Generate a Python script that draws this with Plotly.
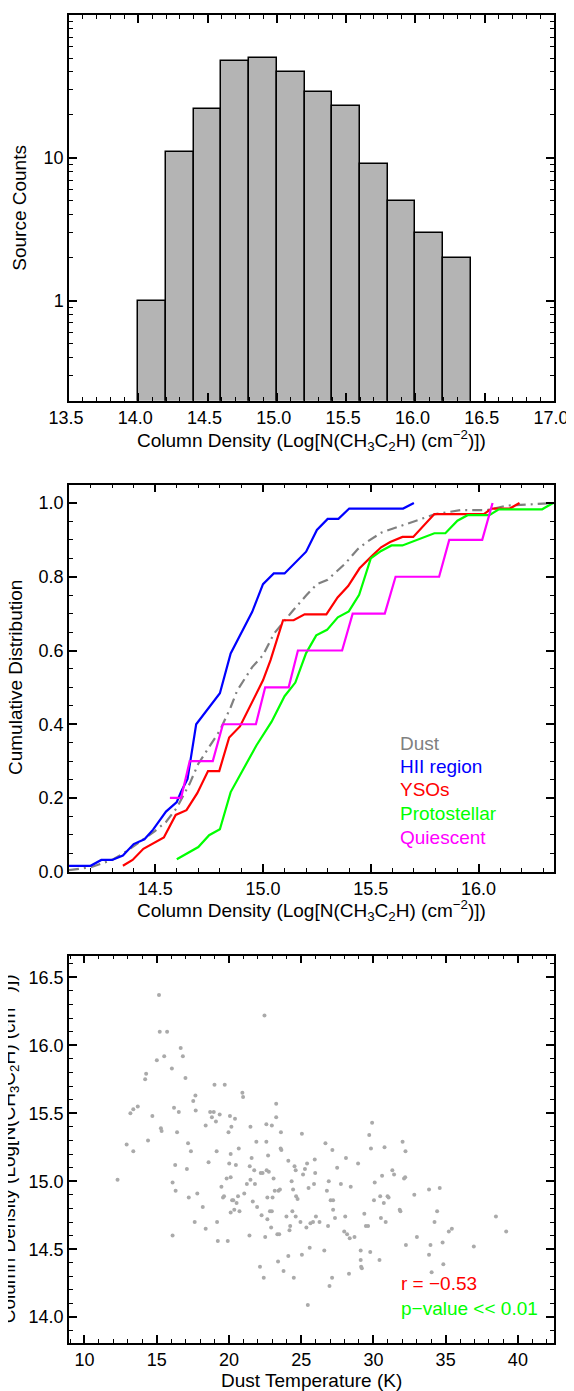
import plotly.graph_objects as go

# ---------------- Panel 1: histogram ----------------
bin_left = [14.0, 14.2, 14.4, 14.6, 14.8, 15.0, 15.2, 15.4, 15.6, 15.8, 16.0, 16.2]
counts = [1, 11, 22, 48, 50, 40, 29, 23, 9, 5, 3, 2]
bin_width = 0.2

# ---------------- Panel 2: cumulative distributions ----------------
dust_x = [14.10, 14.20, 14.30, 14.35, 14.45, 14.50, 14.55, 14.60, 14.66, 14.70, 14.75, 14.80, 14.85,
          14.88, 14.95, 15.00, 15.05, 15.10, 15.14, 15.20, 15.25, 15.30, 15.38, 15.44, 15.48, 15.55,
          15.65, 15.75, 15.80, 15.92, 16.04, 16.13, 16.26, 16.35]
dust_y = [0.004, 0.012, 0.032, 0.049, 0.090, 0.111, 0.135, 0.173, 0.239, 0.293, 0.338, 0.383, 0.446,
          0.491, 0.555, 0.587, 0.645, 0.681, 0.709, 0.749, 0.780, 0.792, 0.835, 0.875, 0.894, 0.920,
          0.939, 0.960, 0.970, 0.981, 0.981, 0.993, 0.997, 1.0]

hii_x = [14.05, 14.20, 14.25, 14.30, 14.35, 14.40, 14.45, 14.49, 14.55, 14.60, 14.62, 14.65, 14.69,
         14.80, 14.85, 14.95, 15.00, 15.05, 15.10, 15.20, 15.25, 15.30, 15.35, 15.40, 15.65, 15.70]
hii_y = [0.016, 0.016, 0.032, 0.032, 0.044, 0.075, 0.088, 0.114, 0.163, 0.189, 0.217, 0.252, 0.40,
         0.484, 0.592, 0.705, 0.780, 0.809, 0.809, 0.868, 0.927, 0.957, 0.957, 0.985, 0.985, 1.0]

yso_x = [14.35, 14.395, 14.445, 14.54, 14.595, 14.645, 14.695, 14.745, 14.797, 14.843, 14.893, 15.0,
         15.035, 15.093, 15.142, 15.193, 15.294, 15.346, 15.395, 15.448, 15.506, 15.548, 15.59, 15.647,
         15.697, 15.744, 15.795, 16.025, 16.06, 16.145, 16.19]
yso_y = [0.016, 0.032, 0.062, 0.093, 0.154, 0.167, 0.213, 0.273, 0.273, 0.364, 0.394, 0.519,
         0.574, 0.682, 0.682, 0.698, 0.698, 0.744, 0.775, 0.823, 0.857, 0.880, 0.894, 0.908,
         0.908, 0.939, 0.970, 0.970, 0.985, 0.985, 1.0]

proto_x = [14.60, 14.70, 14.75, 14.80, 14.85, 14.97, 15.04, 15.10, 15.15, 15.20, 15.247, 15.297,
           15.347, 15.398, 15.446, 15.50, 15.548, 15.596, 15.647, 15.744, 15.795, 15.846, 15.902,
           15.949, 16.05, 16.094, 16.295, 16.346]
proto_y = [0.034, 0.067, 0.099, 0.115, 0.216, 0.343, 0.407, 0.476, 0.513, 0.593, 0.641, 0.656,
           0.690, 0.706, 0.751, 0.850, 0.870, 0.885, 0.885, 0.906, 0.918, 0.918, 0.952,
           0.967, 0.967, 0.983, 0.983, 1.0]

quies_x = [14.568, 14.620, 14.660, 14.767, 14.814, 14.967, 15.010, 15.119, 15.162, 15.367, 15.416,
           15.565, 15.615, 15.817, 15.864, 16.017, 16.065]
quies_y = [0.2, 0.2, 0.3, 0.3, 0.4, 0.4, 0.5, 0.5, 0.6, 0.6, 0.7, 0.7, 0.8, 0.8, 0.9, 0.9, 1.0]

legend_labels = ["Dust", "HII region", "YSOs", "Protostellar", "Quiescent"]
legend_colors = ["#808080", "#0000ff", "#ff0000", "#00ff00", "#ff00ff"]
legend_y = [0.349, 0.286, 0.222, 0.159, 0.094]

# ---------------- Panel 3: scatter ----------------
tdust = [12.29, 12.92, 13.18, 13.38, 13.38, 13.69, 14.20, 14.27, 14.40, 14.70, 15.01, 15.16, 15.21, 15.29,
         15.34, 15.52, 15.72, 16.05, 16.10, 16.10, 16.20, 16.28, 16.31, 16.41, 16.53, 16.66, 16.81, 16.99,
         17.09, 17.17, 17.22, 17.37, 17.53, 17.63, 17.68, 17.70, 17.81, 18.19, 18.39, 18.39, 18.59, 18.70,
         18.82, 18.95, 19.00, 19.10, 19.15, 19.18, 19.23, 19.36, 19.48, 19.59, 19.66, 19.71, 19.84, 19.92,
         19.97, 20.02, 20.07, 20.12, 20.12, 20.12, 20.17, 20.22, 20.30, 20.37, 20.42, 20.48, 20.53, 20.63,
         20.68, 20.73, 20.93, 20.98, 21.06, 21.24, 21.42, 21.44, 21.49, 21.49, 21.57, 21.65, 21.75, 21.80,
         21.90, 21.95, 22.15, 22.20, 22.26, 22.33, 22.41, 22.46, 22.51, 22.59, 22.59, 22.61, 22.66, 22.66,
         22.71, 22.76, 22.84, 22.92, 22.97, 22.97, 23.02, 23.09, 23.17, 23.27, 23.27, 23.35, 23.40, 23.43,
         23.48, 23.53, 23.58, 23.60, 23.63, 23.78, 23.98, 24.11, 24.11, 24.19, 24.24, 24.34, 24.39, 24.44,
         24.49, 24.54, 24.62, 24.62, 24.65, 24.75, 24.95, 25.05, 25.05, 25.13, 25.26, 25.36, 25.41, 25.46,
         25.51, 25.59, 25.64, 25.82, 25.89, 25.94, 25.97, 26.02, 26.27, 26.60, 26.68, 26.78, 26.86, 26.91,
         26.96, 27.04, 27.14, 27.16, 27.21, 27.21, 27.34, 27.49, 27.75, 27.98, 28.05, 28.10, 28.18, 28.31,
         28.36, 28.43, 28.69, 28.94, 29.12, 29.12, 29.15, 29.20, 29.37, 29.48, 29.63, 29.71, 29.78, 29.83,
         29.91, 30.04, 30.09, 30.42, 30.47, 30.52, 30.60, 30.77, 30.72, 30.85, 30.98, 31.05, 31.31, 31.43,
         31.82, 31.87, 32.02, 32.12, 32.20, 32.22, 32.25, 32.83, 33.01, 33.85, 33.85, 33.95, 34.03, 34.23,
         34.41, 34.59, 34.79, 34.84, 35.22, 35.43, 36.95, 38.48, 39.19]
logn = [15.01, 15.27, 15.50, 15.53, 15.22, 15.55, 15.75, 15.79, 15.30, 15.48, 15.89, 16.37, 16.10, 15.39,
        15.37, 15.92, 16.10, 15.83, 14.99, 14.60, 15.54, 15.12, 14.93, 15.36, 15.51, 15.98, 15.92, 15.76,
        15.09, 15.28, 14.88, 15.22, 15.59, 14.70, 15.63, 15.52, 14.91, 14.81, 15.41, 14.65, 15.14, 15.51,
        15.47, 15.51, 15.71, 15.44, 15.22, 14.70, 14.56, 15.49, 14.96, 14.88, 14.89, 15.71, 15.02, 14.56,
        15.36, 15.13, 15.48, 15.03, 14.77, 15.20, 15.40, 14.86, 14.86, 14.79, 15.46, 15.12, 14.84, 14.89,
        15.24, 14.78, 15.65, 15.62, 14.91, 14.98, 14.60, 15.11, 15.40, 15.01, 15.17, 14.85, 15.08, 14.98,
        15.29, 14.81, 14.37, 15.06, 14.75, 15.06, 14.29, 16.22, 14.59, 15.42, 15.29, 15.08, 14.72, 14.88,
        15.19, 15.07, 14.78, 14.66, 14.78, 15.41, 14.88, 15.02, 14.93, 15.47, 15.57, 14.61, 14.41, 14.93,
        14.61, 14.94, 15.24, 15.36, 15.23, 14.34, 14.74, 15.15, 14.45, 14.64, 14.67, 15.00, 14.78, 14.94,
        14.29, 15.11, 15.08, 14.74, 14.89, 14.87, 14.70, 15.35, 14.46, 15.05, 15.09, 14.66, 15.13, 14.09,
        14.95, 14.51, 14.69, 14.70, 14.98, 15.16, 15.06, 14.74, 14.70, 14.49, 15.28, 14.93, 14.67, 15.00,
        14.23, 14.86, 14.29, 15.23, 14.79, 14.86, 14.73, 15.10, 14.98, 14.63, 14.74, 15.17, 14.61, 14.32,
        14.58, 14.96, 14.59, 15.13, 14.49, 14.42, 14.37, 14.36, 14.76, 14.67, 14.67, 15.34, 14.48, 15.24,
        15.43, 14.86, 14.99, 14.42, 14.89, 14.73, 15.04, 15.25, 14.84, 14.70, 14.89, 14.88, 15.08, 15.05,
        14.79, 14.78, 15.29, 15.02, 15.03, 15.22, 14.53, 14.90, 14.59, 14.94, 14.46, 14.53, 14.33, 14.70,
        14.78, 14.95, 14.55, 14.39, 14.63, 14.65, 14.52, 14.74, 14.63]

r_text = "r = \u22120.53"
p_text = "p\u2212value << 0.01"
stat_pos = (31.74, 14.245, 14.066)

col_title = "Column Density (Log[N(CH<sub>3</sub>C<sub>2</sub>H) (cm<sup>\u22122</sup>)])"

# ---------------- layout geometry (page pixels; page body has an 8px margin) ----------------
W, H = 574, 1391
OFF = 8
P_LEFT, P_RIGHT, P_TOP, P_BOT = 69, 554, 13, 1343   # plot extents on the page
ML = P_LEFT - OFF
MR = W - (P_RIGHT - OFF)
MT = P_TOP - OFF
MB = H - (P_BOT - OFF)
PH = H - MT - MB
PW = W - ML - MR


def ypaper(py):
    return ((P_BOT - OFF) - (py - OFF)) / PH


def xpaper(px):
    return (px - P_LEFT) / PW


def ydom(top_px, bot_px):
    return [ypaper(bot_px), ypaper(top_px)]


FONT = "Liberation Sans, Arial, Helvetica, sans-serif"
FS = 19
TFS = 18

fig = go.Figure()

fig.add_trace(go.Bar(
    x=[b + bin_width / 2 for b in bin_left], y=counts, width=bin_width,
    marker=dict(color="#b4b4b4", line=dict(color="black", width=1.5)),
    xaxis="x", yaxis="y", showlegend=False))

series = [(dust_x, dust_y, "#808080", "10px,5px,2px,5px"),
          (hii_x, hii_y, "#0000ff", "solid"),
          (yso_x, yso_y, "#ff0000", "solid"),
          (proto_x, proto_y, "#00ff00", "solid"),
          (quies_x, quies_y, "#ff00ff", "solid")]
for (sx, sy, c, d), name in zip(series, legend_labels):
    fig.add_trace(go.Scatter(x=sx, y=sy, mode="lines", name=name,
                             line=dict(color=c, width=2.2, dash=d),
                             xaxis="x2", yaxis="y2", showlegend=False))

fig.add_trace(go.Scatter(x=tdust, y=logn, mode="markers",
                         marker=dict(color="#aaaaaa", size=4, line=dict(width=0)),
                         xaxis="x3", yaxis="y3", showlegend=False))

base = dict(showline=True, linecolor="black", linewidth=1.5, mirror="ticks",
            ticks="inside", ticklen=8, tickwidth=1.5, tickcolor="black",
            showgrid=False, zeroline=False,
            tickfont=dict(family=FONT, size=TFS, color="black"))


def minor(**kw):
    d = dict(ticks="inside", ticklen=4, tickwidth=1.2, tickcolor="black", showgrid=False)
    d.update(kw)
    return d


log_minor = [0.2, 0.3, 0.4, 0.5, 0.6, 0.7, 0.8, 0.9, 2, 3, 4, 5, 6, 7, 8, 9,
             20, 30, 40, 50, 60, 70, 80, 90]

fig.update_layout(
    width=W, height=H,
    margin=dict(l=ML, r=MR, t=MT, b=MB),
    paper_bgcolor="white", plot_bgcolor="white",
    font=dict(family=FONT, size=FS, color="black"),
    bargap=0,
    xaxis=dict(base, domain=[0, 1], anchor="y", range=[13.5, 17.0], tick0=13.5, dtick=0.5,
               tickformat=".1f", ticklabelshift=-3, minor=minor(tick0=13.5, dtick=0.1)),
    yaxis=dict(base, domain=ydom(13, 399.3), anchor="x", type="log", range=[-0.699, 2.0],
               tickvals=[1, 10], ticktext=["1", "10"], minor=minor(tickvals=log_minor)),
    xaxis2=dict(base, domain=[0, 1], anchor="y2", range=[14.1, 16.35], tick0=14.5, dtick=0.5,
                tickformat=".1f", minor=minor(tick0=14.5, dtick=0.1)),
    yaxis2=dict(base, domain=ydom(483.3, 871), anchor="x2", range=[0, 1.05], tick0=0, dtick=0.2,
                tickformat=".1f", minor=minor(tick0=0, dtick=0.05)),
    xaxis3=dict(base, domain=[0, 1], anchor="y3", range=[8.93, 42.5], tick0=10, dtick=5,
                minor=minor(tick0=10, dtick=1)),
    yaxis3=dict(base, domain=ydom(955, 1343), anchor="x3", range=[13.81, 16.66], tick0=14, dtick=0.5,
                tickformat=".1f", minor=minor(tick0=14, dtick=0.1)),
)

ann = []
# axis titles
for ytxt, ypx in [(col_title, 439), (col_title, 910), ("Dust Temperature (K)", 1381)]:
    ann.append(dict(text=ytxt, xref="paper", yref="paper", x=0.5, y=ypaper(ypx),
                    xanchor="center", yanchor="middle", showarrow=False,
                    font=dict(family=FONT, size=FS, color="black")))
for ytxt, xpx, ypx in [("Source Counts", 20, 206), ("Cumulative Distribution", 15, 677),
                       (col_title, 8, 1149)]:
    ann.append(dict(text=ytxt, xref="paper", yref="paper", x=xpaper(xpx), y=ypaper(ypx),
                    xanchor="center", yanchor="middle", textangle=-90, showarrow=False,
                    font=dict(family=FONT, size=FS, color="black")))
# legend texts
for lab, col, ly in zip(legend_labels, legend_colors, legend_y):
    ann.append(dict(text=lab, xref="x2", yref="y2", x=15.625, y=ly, xanchor="left",
                    yanchor="middle", showarrow=False,
                    font=dict(family=FONT, size=FS, color=col)))
ann.append(dict(text=r_text, xref="x3", yref="y3", x=stat_pos[0], y=stat_pos[1], xanchor="left",
                yanchor="middle", showarrow=False, font=dict(family=FONT, size=FS, color="#ff0000")))
ann.append(dict(text=p_text, xref="x3", yref="y3", x=stat_pos[0], y=stat_pos[2], xanchor="left",
                yanchor="middle", showarrow=False, font=dict(family=FONT, size=FS, color="#00ff00")))
fig.update_layout(annotations=ann)

fig.write_html("out.html")
